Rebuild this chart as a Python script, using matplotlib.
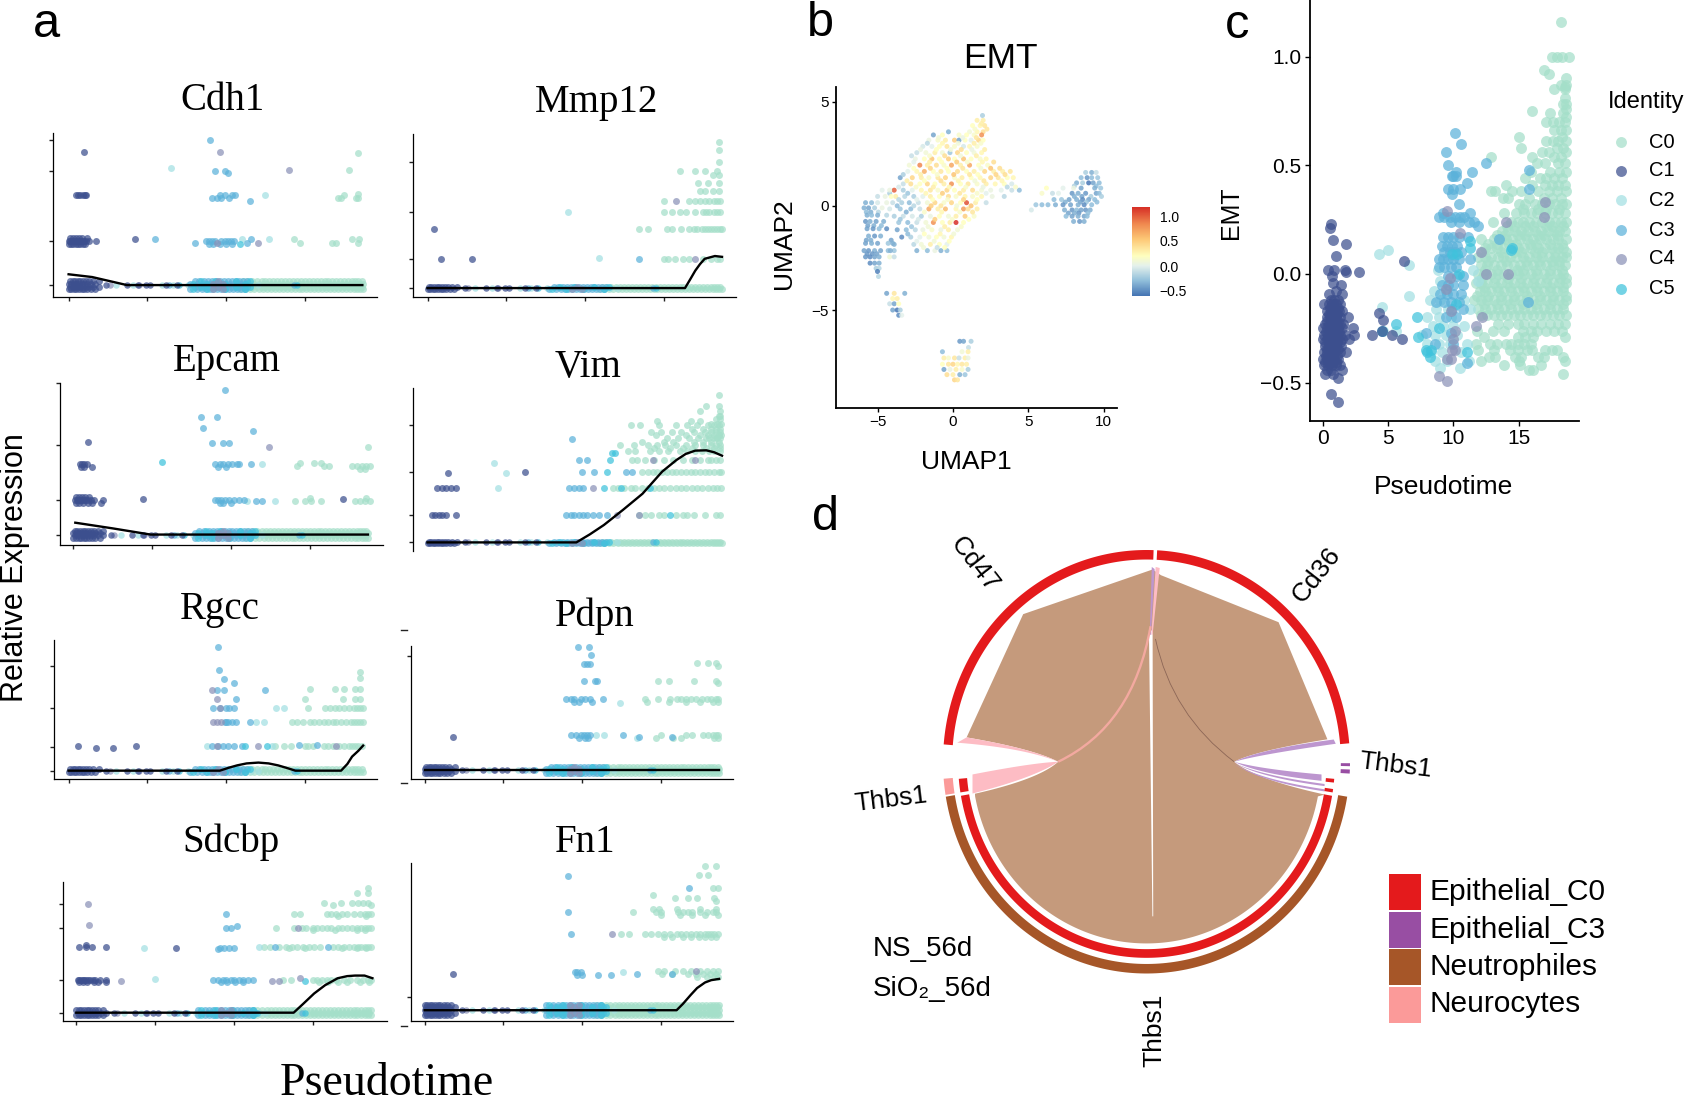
import numpy as np
import matplotlib
matplotlib.use("Agg")
import matplotlib.pyplot as plt
from matplotlib.colors import LinearSegmentedColormap
from matplotlib.patches import PathPatch, Polygon, Rectangle
from matplotlib.path import Path

W, H = 1686, 1101
plt.rcParams['font.family'] = ['Liberation Sans', 'DejaVu Sans']
fig = plt.figure(figsize=(W / 100, H / 100), dpi=100)

COL = {'C0': '#a4dfc9', 'C1': '#3c4f8e', 'C2': '#a3e0e3', 'C3': '#5cb2da', 'C4': '#8b92b8', 'C5': '#3fc3dc'}
ORDER = ['C0', 'C2', 'C3', 'C5', 'C4', 'C1']

# ---------- panel a: cells shared along the zero-expression baseline (pseudotime)
# dense runs come as two lists that alternate across the thickness of the band
DENSE_C1 = ([0.0, 0.18, 0.33, 0.5, 0.66, 0.83, 1.0, 1.2, 1.4, 1.7], [0.1, 0.25, 0.4, 0.58, 0.75, 0.92, 1.1, 1.3, 1.55, 1.9])
DENSE_C3 = ([7.7, 8.15, 8.45, 8.7, 8.95, 9.2, 9.45, 9.7, 9.95, 10.2, 10.45, 10.7, 10.95, 11.2],
            [8.0, 8.3, 8.6, 8.85, 9.1, 9.35, 9.6, 9.85, 10.1, 10.35, 10.6, 10.85, 11.1, 11.35])
DENSE_C5 = ([7.9, 8.8, 9.9, 11.2], [8.4, 9.3, 10.6, 11.5])
DENSE_C4 = ([9.2, 9.8], [9.5])
DENSE_C0 = ([10.9, 11.2, 11.5, 11.8, 12.1, 12.35, 12.6, 12.85, 13.1, 13.35, 13.6, 13.85, 14.1, 14.35, 14.6, 14.85, 15.1, 15.35, 15.6, 15.85,
             16.1, 16.35, 16.6, 16.85, 17.1, 17.35, 17.6, 17.85, 18.1, 18.3, 18.5, 18.7],
            [11.05, 11.35, 11.65, 11.95, 12.25, 12.5, 12.75, 13.0, 13.25, 13.5, 13.75, 14.0, 14.25, 14.5, 14.75, 15.0, 15.25, 15.5, 15.75, 16.0,
             16.25, 16.5, 16.75, 17.0, 17.25, 17.5, 17.75, 18.0, 18.2, 18.4, 18.6])
DENSE = {'C0': DENSE_C0, 'C1': DENSE_C1, 'C3': DENSE_C3, 'C4': DENSE_C4, 'C5': DENSE_C5}
# single cells between the runs
SPARSE = {'C1': [2.4, 3.7, 4.4, 4.9, 5.2, 6.2, 6.9], 'C4': [2.6, 4.5], 'C2': [3.0, 4.1, 5.9, 6.6, 7.6, 11.6, 12.0],
          'C3': [6.4, 14.3], 'C5': [7.0, 14.5]}
X_TICKS = [0, 5, 10, 15]

# expression rows: (height on the axis in %, pseudotime of each cell)
CDH1 = {
 'C1': [(88.6, [1.0]), (62, [0.45, 0.6, 0.75, 0.9, 1.05, 1.12]),
        (34, [0.0, 0.1, 0.2, 0.3, 0.4, 0.5, 0.6, 0.7, 0.8, 0.9, 1.0, 1.1, 1.3, 1.75]),
        (32, [0.05, 0.15, 0.3, 0.45, 0.6, 0.75, 0.9, 1.05]), (36, [0.1, 0.25, 0.5, 0.65, 0.85, 1.2]), (35, [4.2])],
 'C3': [(96, [9.0]), (76.5, [9.3, 9.9]), (75.5, [10.1]), (62, [9.6, 9.9, 10.4, 10.55]), (60, [9.1, 9.4, 9.7, 10.2]), (58.5, [11.5]),
        (34, [8.7, 8.9, 9.1, 9.3, 9.7, 9.9, 10.1, 10.3, 10.5]), (32, [8.9, 9.2, 9.6, 10.0, 10.4]), (33, [8.0, 11.3]), (35, [5.5, 11.6])],
 'C4': [(88.6, [9.6]), (77.5, [14.0]), (33, [9.4, 12.0])],
 'C2': [(78.5, [6.5]), (62, [12.5]), (35, [11.0, 12.7])],
 'C5': [(32, [10.9])],
 'C0': [(88, [18.4]), (77.5, [17.8]), (62, [17.5]), (60, [17.1, 17.3, 18.25, 18.4]), (63, [18.4]),
        (35, [14.3, 18.0, 18.45]), (33, [14.7, 16.7, 17.0, 18.4])],
}
MMP12 = {
 'C1': [(41.8, [0.43]), (23, [0.86, 2.8])],
 'C4': [(23, [17.0]), (59, [15.8])],
 'C3': [(23, [13.4])],
 'C2': [(52, [8.9]), (23.5, [10.9])],
 'C0': [(95, [18.5]), (90, [18.5]), (83, [18.5]), (77.5, [16.0, 17.0, 17.6, 18.4]), (74.5, [18.1, 18.5]), (70, [17.2, 17.8, 18.5]),
        (65, [17.3, 17.6, 18.1, 18.5]), (59, [15.0, 16.6, 17.0, 17.3, 17.6, 17.9, 18.2, 18.4, 18.6]),
        (52, [15.0, 15.5, 16.0, 16.4, 17.0, 17.5, 17.9, 18.2, 18.6, 18.4, 17.7]),
        (41.4, [13.4, 14.0, 15.2, 15.5, 16.1, 16.6, 16.9, 17.1, 17.4, 17.6, 17.8, 18.0, 18.2, 18.4, 18.6, 18.7]),
        (23, [15.0, 15.3, 15.7, 16.2, 16.6, 17.5, 18.0, 18.4, 18.6])],
}
EPCAM = {
 'C1': [(63.7, [0.9]), (49.8, [0.4, 0.55, 0.7, 0.85]), (48, [0.5, 0.65, 1.15]),
        (27.9, [0.1, 0.2, 0.3, 0.4, 0.5, 0.6, 0.7, 0.8, 0.95, 1.1, 1.3, 1.9]), (29.5, [0.15, 0.35, 0.55, 0.75, 1.0]),
        (26, [0.15, 0.35, 0.6, 0.9, 1.2, 1.75]), (28.5, [4.4, 17.1])],
 'C3': [(95.5, [9.63]), (78.7, [8.1, 9.1]), (72, [8.25]), (70.5, [11.4]), (62.7, [8.8, 9.5, 9.9]),
        (49.8, [9.0, 9.3, 9.5, 9.8, 10.1, 10.4, 10.5, 11.3]), (48, [9.2, 9.7]),
        (27.9, [9.0, 9.2, 9.4, 9.6, 9.9, 10.2, 10.5, 10.8]), (26, [9.3, 9.5, 10.0]), (27, [11.6, 12.0])],
 'C5': [(51.4, [5.6])],
 'C4': [(60.7, [12.4])],
 'C2': [(49.8, [12.0]), (27, [11.0, 12.8])],
 'C0': [(60.7, [18.7]), (50.5, [15.3, 15.7, 14.4]), (49, [14.2, 16.2, 15.9, 17.7, 18.0, 18.3, 18.6, 18.8]), (47, [18.2, 18.5]),
        (27, [14.1, 14.7, 15.1, 15.7, 17.9, 18.2, 18.5, 18.8]), (29, [15.0, 18.6])],
}
VIM = {
 'C1': [(38.5, [0.6, 0.9, 1.2, 1.5, 1.8]), (22, [0.3, 0.5, 0.7, 0.9, 1.2, 1.8]), (48, [1.3]), (48.6, [6.2])],
 'C2': [(54, [4.2]), (48, [5.0]), (38.5, [4.5])],
 'C3': [(68.6, [9.15]), (55.7, [9.6, 10.1]), (48.6, [9.8, 10.6, 12.6, 13.0]),
        (38.5, [9.0, 9.3, 9.6, 9.9]), (22, [8.8, 9.1, 9.3, 9.6, 9.9, 10.1, 10.5, 10.9, 11.4])],
 'C5': [(55.7, [11.6]), (60, [11.7, 11.9]), (48.6, [11.4]), (38.5, [11.2, 12.3, 14.1]), (22, [15.4])],
 'C4': [(38.5, [10.5]), (55.7, [14.3]), (22, [12.0, 13.4]), (56, [17.0])],
 'C0': [(95.7, [18.5]), (89, [17.7, 18.5]), (86, [17.3, 18.6]), (83, [18.6, 18.5]), (81, [18.3, 18.6]), (80, [14.6, 16.7, 17.3]),
        (78, [18.0, 18.4, 18.65]), (77, [12.9, 13.5, 14.7, 15.8, 16.5, 17.1, 17.8, 18.2, 18.5]), (75, [16.8, 17.5, 18.0, 18.3, 18.6]),
        (73, [14.2, 14.8, 15.5, 16.1, 16.9, 17.6, 18.0, 18.3, 18.6]), (71, [14.5, 16.4, 17.3, 17.8, 18.2, 18.5, 18.65]),
        (69, [15.2, 15.9, 16.6, 17.2, 17.7, 18.1, 18.4, 18.6, 17.9, 18.3]), (67, [13.6, 15.0, 15.6, 16.9, 17.5, 18.0, 18.5]),
        (65, [12.2, 13.1, 14.0, 14.6, 15.1, 15.8, 16.4, 17.0, 17.5, 18.0, 18.3, 18.6]), (63, [14.4, 15.4, 16.2, 16.8, 17.7, 18.2, 18.6]),
        (61, [12.7, 13.2, 14.1, 14.7, 15.3, 16.0, 16.5, 17.0, 17.4, 17.9, 18.2, 18.6]),
        (55.7, [13.0, 13.3, 13.8, 14.4, 15.0, 15.6, 16.2, 16.8, 17.3, 17.8, 18.3, 18.6, 18.0]),
        (48.6, [13.6, 14.0, 14.3, 14.6, 14.9, 15.2, 15.5, 15.8, 16.1, 16.4, 16.7, 17.0, 17.3, 17.6, 17.9, 18.2, 18.5, 18.65]),
        (38.5, [11.8, 12.1, 12.5, 12.9, 13.2, 13.6, 14.0, 14.4, 14.7, 15.0, 15.4, 15.8, 16.1, 16.4, 16.8, 17.1, 17.4, 17.8, 18.1, 18.4, 18.65]),
        (22, [13.4, 13.8, 14.2, 14.7, 15.0, 15.8, 16.2, 16.5, 16.9, 17.6, 18.3, 18.6])],
}
RGCC = {
 'C1': [(24, [0.6, 4.3]), (22.5, [1.75, 2.8])],
 'C3': [(95, [9.5]), (78.5, [9.55]), (72, [9.85]), (69.4, [10.5]), (64, [9.4, 9.85, 12.5]), (58, [10.6]),
        (51, [9.2, 9.6, 10.0, 10.2, 10.5]), (41, [9.9, 10.0, 10.15, 10.35, 10.6, 11.5]),
        (24, [9.1, 9.5, 9.8, 10.1, 10.5, 11.0]), (24.5, [14.6, 15.8])],
 'C4': [(64, [9.1]), (58, [9.45]), (41, [9.2, 9.4, 9.7]), (24, [9.4, 12.0, 17.0]), (51, [9.6])],
 'C2': [(24, [8.8, 12.9]), (41, [11.9, 12.4]), (51, [13.2, 13.7])],
 'C5': [(24, [11.2, 12.6])],
 'C0': [(77, [18.5]), (72.5, [18.5]), (65, [15.3, 16.9, 17.5, 18.2, 18.5]), (58, [15.0, 17.4, 18.2, 18.5]),
        (51, [15.2, 16.3, 16.6, 16.9, 17.2, 17.5, 17.8, 18.1, 18.3, 18.5, 18.7]),
        (41, [14.2, 14.5, 14.9, 15.3, 15.6, 15.9, 16.2, 16.5, 16.8, 17.0, 17.3, 17.6, 17.9, 18.1, 18.3, 18.5, 18.7]),
        (24, [13.1, 13.7, 14.1, 15.0, 15.2, 15.5, 16.2, 16.5, 16.8, 17.2, 17.5, 17.8, 18.0, 18.2, 18.4, 18.6])],
}
PDPN = {
 'C1': [(31.5, [1.8])],
 'C3': [(99.5, [9.75, 10.45]), (93, [10.55]), (86.5, [10.1, 10.3, 10.5]), (74, [10.1, 10.8, 10.95]),
        (60, [9.0, 9.3, 9.5, 9.9, 10.2, 10.5, 11.3]), (58, [9.5, 9.8, 10.6]),
        (33, [9.3, 9.6, 9.9, 10.1, 10.3, 10.5, 12.6]), (31, [9.8, 10.2, 10.4]), (32, [13.6, 15.7])],
 'C2': [(33, [10.9, 11.4]), (57, [12.4]), (31, [13.5])],
 'C0': [(87, [17.3, 18.0, 18.5]), (85, [18.6]), (74, [14.8, 15.5, 17.1, 18.5]), (72, [18.6]),
        (60, [14.0, 14.8, 15.6, 16.0, 16.3, 16.6, 16.9, 17.2, 17.6, 17.9, 18.2, 18.5, 18.6]), (58, [14.1, 15.5, 16.6, 17.5, 18.3, 18.6]),
        (33, [15.0, 16.6, 17.0, 17.7, 18.0, 18.3, 18.5, 18.6]), (31, [14.7, 15.8, 16.3, 18.4, 18.6])],
}
SDCBP = {
 'C1': [(53.7, [0.15, 0.6, 1.0, 1.9]), (55, [0.6]), (53, [6.3]),
        (30, [0.1, 0.2, 0.3, 0.4, 0.5, 0.6, 0.75, 0.9, 1.05, 1.2, 1.5, 1.9]), (28.5, [0.2, 0.45, 0.7, 1.1, 1.4, 1.9])],
 'C4': [(84.7, [0.77]), (69, [0.83]), (67.4, [14.1]), (29, [2.85, 12.4, 12.9]), (31, [14.2])],
 'C2': [(53, [4.3]), (30.5, [5.0]), (53.7, [11.6])],
 'C3': [(77, [9.5]), (67, [9.5, 9.8]), (68.5, [10.2]), (53, [9.1, 9.4, 9.7, 10.0]), (53.7, [12.6, 16.0]), (52, [9.0]),
        (30, [8.7, 9.0, 9.3, 9.5, 9.8, 10.0, 10.3, 10.6, 10.9, 11.2]), (28.5, [9.2, 9.6, 10.1, 10.6])],
 'C5': [(29, [14.5])],
 'C0': [(95.7, [18.5]), (92, [17.85, 18.5]), (85, [15.7, 16.8, 17.5, 17.9, 18.2, 18.5]), (84, [16.3, 18.7]),
        (77, [13.8, 14.2, 15.9, 16.2, 16.5, 16.9, 17.2, 17.6, 18.0, 18.3, 18.5, 18.7]), (76, [16.6, 18.4]),
        (67.4, [12.7, 13.8, 14.3, 14.6, 15.0, 15.3, 15.6, 15.9, 16.2, 16.6, 16.9, 17.2, 17.5, 17.8, 18.1, 18.3, 18.5, 18.7]), (65.5, [15.0, 16.4, 17.8, 18.3]),
        (53.7, [11.9, 12.3, 12.9, 13.3, 13.7, 14.0, 14.4, 14.8, 15.1, 15.5, 16.3, 16.6, 17.0, 17.3, 17.6, 17.9, 18.1, 18.3, 18.5, 18.7]),
        (52.5, [13.5, 14.5, 16.9, 17.8, 18.4]),
        (30, [13.1, 13.6, 15.0, 15.3, 15.6, 15.9, 16.2, 16.5, 17.0, 17.4, 17.8, 18.2, 18.5, 18.7]), (28.5, [15.4, 16.0, 16.6, 17.2, 18.0, 18.6])],
}
FN1 = {
 'C1': [(30, [1.8])],
 'C3': [(92, [9.1]), (84, [16.8]), (69, [9.1]), (55, [9.3]), (31, [9.55, 9.7, 9.9]), (29, [9.65, 10.0, 11.0, 11.85]), (30, [13.5, 15.7])],
 'C4': [(55, [11.9]), (32, [17.2])],
 'C2': [(31, [12.6])],
 'C0': [(98, [17.8, 18.5]), (92.6, [17.4, 18.0]), (84, [18.3, 18.6]), (80, [14.5]), (78, [15.9, 16.7, 17.3, 18.4]), (76, [18.5]),
        (71, [14.5, 14.9, 16.0, 17.5, 18.5]), (69, [13.2, 14.7, 15.0, 16.1, 16.4, 16.7, 17.0, 17.5, 17.9, 18.3, 18.5]), (67, [15.0, 16.2, 17.0, 17.8, 18.6]),
        (55, [12.5, 13.0, 14.0, 14.4, 14.8, 15.2, 15.6, 16.0, 16.3, 16.6, 16.9, 17.2, 17.5, 17.8, 18.0, 18.2, 18.4, 18.6]),
        (53, [15.2, 15.7, 16.4, 16.9, 17.4, 17.8, 18.2, 18.5]),
        (32, [14.8, 15.2, 15.9, 16.4, 16.9, 17.5, 17.9, 18.3, 18.6]), (30, [15.1, 15.7, 16.7, 17.2, 17.7, 18.1, 18.5]), (28, [17.3, 17.9, 18.4, 18.6])],
}

CDH1_LINE = ([0, 1.5, 3.7, 18.65], [13.7, 12, 7.1, 7.1])
MMP12_LINE = ([0, 16.35, 16.7, 17.0, 17.3, 17.6, 18.25, 18.7], [5.3, 5.3, 11, 16, 20, 23.3, 25, 24.5])
EPCAM_LINE = ([0.12, 2.5, 4.9, 18.7], [13.9, 10.4, 6.6, 6.6])
VIM_LINE = ([0, 9.45, 10.3, 11.2, 12.4, 13.65, 14.9, 15.8, 16.4, 17.0, 17.7, 18.2, 18.7],
            [5.1, 5.1, 10, 15.8, 25, 35, 48.6, 55.7, 59.5, 61.5, 61.7, 60.5, 58.4])
RGCC_LINE = ([0, 9.6, 10.2, 10.7, 11.3, 12.05, 12.7, 13.3, 13.9, 14.4, 17.3, 17.7, 18, 18.4, 18.7],
             [6.2, 6.2, 8.4, 10, 11.4, 12, 11.4, 10, 8, 6.2, 6.2, 11, 16.3, 20.5, 24.2])
PDPN_LINE = ([0, 18.7], [7, 7])
SDCBP_LINE = ([0, 13.8, 14.4, 15.1, 15.8, 16.6, 17.2, 17.7, 18.3, 18.8], [6.2, 6.2, 12.5, 20, 26, 31, 32.5, 32.9, 32.9, 31])
FN1_LINE = ([0, 16.0, 16.4, 16.9, 17.3, 17.8, 18.2, 18.7], [7, 7, 11, 16.7, 21, 24.5, 26, 26.8])

# name, data, line, y ticks (%), band offsets of the baseline, baseline level
GENES = [
 ('Cdh1', CDH1, CDH1_LINE, [96, 76.5, 34, 7.1], [-2.6, -0.9, 0.9, 2.6], 7.1),
 ('Mmp12', MMP12, MMP12_LINE, [83, 52, 23, 5.3], [-0.4, 0.4], 5.3),
 ('Epcam', EPCAM, EPCAM_LINE, [99.6, 61.7, 27.9, 6.6], [-2.2, -0.5, 1.2, 2.4], 6.6),
 ('Vim', VIM, VIM_LINE, [77, 48.6, 22, 5.1], [-0.4, 0.4], 5.1),
 ('Rgcc', RGCC, RGCC_LINE, [81, 51, 23.4, 6.2], [-1.2, 0.9], 6.2),
 ('Pdpn', PDPN, PDPN_LINE, [92.5], [-2.6, -0.8, 1.0, 2.4], 7),
 ('Sdcbp', SDCBP, SDCBP_LINE, [84.7, 67.4, 30, 6.2], [-1.8, 0.0, 1.8], 6.2),
 ('Fn1', FN1, FN1_LINE, [15.6], [-3.2, -1.6, 0.2, 1.8, 3.2], 7),
]
# left, top, right, bottom, x of pseudotime 0 (pixels), title centre
A_BOX = [(53.1, 133, 376.8, 296.7, 68.6, 223, 101), (413, 134, 736.2, 296.7, 427.5, 597, 103),
         (59.9, 382.7, 382.6, 545.3, 73.4, 227, 361), (413, 388, 736.2, 550.7, 427.5, 588, 368),
         (54.1, 640, 376.8, 779.3, 68.6, 220, 609), (410.6, 646, 733.3, 779.3, 424.6, 595, 616),
         (62.8, 882.3, 386.5, 1021.3, 76.3, 231, 842), (410.6, 863, 733.3, 1021.3, 424.6, 585, 842)]
STRAY = {'Pdpn': [112, -3], 'Fn1': [-2.7]}


def axpx(l, t, r, b):
    return fig.add_axes([l / W, 1 - b / H, (r - l) / W, (b - t) / H])


def tpx(x, y, s, **kw):
    kw.setdefault('ha', 'center')
    kw.setdefault('va', 'center')
    return fig.text(x / W, 1 - y / H, s, **kw)


SERIF = ['Liberation Serif', 'DejaVu Serif']
for (name, data, line, yt, offs, lvl), (l, t, r, b, x0, tx, ty) in zip(GENES, A_BOX):
    ax = axpx(l, t, r, b)
    ax.set_xlim((l - x0) / 15.75, (r - x0) / 15.75)
    ax.set_ylim(0, 100)
    for k in ORDER:
        for i, off in enumerate(offs):
            if k in DENSE:
                xs = DENSE[k][i % len(DENSE[k])]
                ax.scatter(xs, [lvl + off] * len(xs), s=25, color=COL[k], alpha=0.72, lw=0, clip_on=False, zorder=2)
        if k in SPARSE:
            ax.scatter(SPARSE[k], [lvl] * len(SPARSE[k]), s=22, color=COL[k], alpha=0.72, lw=0, clip_on=False, zorder=2)
        for yv, xs in data.get(k, []):
            ax.scatter(xs, [yv] * len(xs), s=25, color=COL[k], alpha=0.72, lw=0, clip_on=False, zorder=2)
    ax.plot(line[0], line[1], color='black', lw=1.7, zorder=4, clip_on=False)
    for s in ('top', 'right'):
        ax.spines[s].set_visible(False)
    for s in ('left', 'bottom'):
        ax.spines[s].set_linewidth(0.9)
    ax.set_yticks(yt)
    ax.set_yticklabels([])
    ax.tick_params(axis='y', length=3, width=1.0, color='#222222')
    ax.set_xticks(X_TICKS)
    ax.set_xticklabels([])
    ax.tick_params(axis='x', length=3, width=1.0, color='#222222')
    if name == 'Vim':
        ax.spines['bottom'].set_visible(False)
        ax.set_xticks([])
    for yv in STRAY.get(name, []):
        ax.plot([-0.012, -0.03], [yv / 100, yv / 100], transform=ax.transAxes, color='#222222', lw=1.0, clip_on=False)
    tpx(tx, ty, name, family=SERIF, fontsize=28)

tpx(387, 1084, 'Pseudotime', family=SERIF, fontsize=33)
tpx(15, 568, 'Relative Expression', rotation=90, fontsize=22)

# ---------- panel b: UMAP, rows of (umap2, [umap1], [EMT score])
MAIN_ROWS = [
 (4.35, [1.9], [-0.2]),
 (4.1, [1.6, 2.0], [0.3, 0.3]),
 (3.85, [1.3, 1.8, 2.1], [0.2, 0.25, 0.35]),
 (3.55, [-0.3, 1.1, 1.6, 2.0], [-0.35, 0.1, 0.25, 0.4]),
 (3.4, [-1.3, -0.7, 0.4, 0.9, 1.4, 1.9], [-0.4, 0.2, 0.15, 0.2, 0.15, 0.8]),
 (3.15, [-1.6, -1.0, -0.5, 0.1, 0.4, 0.8, 1.2, 1.7, 2.0], [0.05, 0.15, 0.3, 0.5, -0.4, 0.2, 0.0, 0.45, 0.2]),
 (2.85, [-2.0, -1.4, -0.9, -0.4, 0.1, 0.7, 1.1, 1.6], [-0.05, 0.0, 0.2, 0.35, 0.15, -0.05, 0.25, 0.15]),
 (2.55, [-2.4, -1.8, -1.2, -0.7, -0.2, 0.3, 0.9, 1.4, 1.9], [-0.1, 0.1, 0.3, 0.1, -0.25, 0.45, 0.2, 0.1, 0.25]),
 (2.25, [-2.5, -1.9, -1.4, -0.9, -0.3, 0.1, 0.7, 1.2, 1.8, 2.2], [0.05, 0.2, 0.55, 0.2, 0.5, 0.2, 0.55, 0.2, 0.15, 0.25]),
 (1.95, [-2.9, -2.2, -1.7, -1.1, -0.6, -0.1, 0.5, 1.1, 1.7, 2.3], [0.1, 0.85, 0.3, 0.4, 0.15, 0.7, 0.3, 0.7, 0.2, 0.15]),
 (1.65, [-3.0, -2.4, -1.9, -1.3, -0.8, -0.3, 0.3, 0.9, 1.4, 2.1, 2.7, 3.3, 3.8], [0.0, 0.25, 0.65, 0.2, 0.35, 0.2, 0.4, 0.2, 0.3, 0.45, 0.3, 0.3, 0.35]),
 (1.35, [-3.5, -2.7, -2.1, -1.6, -1.0, -0.5, 0.1, 0.6, 1.2, 1.8, 2.5, 3.0, 3.6, 4.0], [-0.4, 0.45, 0.3, 0.15, 0.35, 0.45, 0.15, 0.3, 0.2, 0.25, 0.45, 0.35, 0.2, 0.25]),
 (1.05, [-3.3, -2.8, -2.2, -1.7, -1.2, -0.6, -0.1, 0.5, 1.0, 1.6, 2.2, 2.8, 3.4, 3.9], [-0.1, 0.4, 0.2, 0.45, 0.2, 0.3, 0.8, 0.2, 0.35, 0.15, 0.3, 0.25, 0.2, -0.05]),
 (0.75, [-3.9, -3.3, -2.7, -2.1, -1.5, -1.0, -0.4, 0.1, 0.7, 1.3, 1.9, 2.5, 3.2, 3.9, 4.4], [1.0, -0.2, 0.0, 0.25, 0.35, 0.15, 0.45, 0.2, 0.3, 0.4, 0.1, 0.05, 0.0, -0.1, -0.3]),
 (0.45, [-3.8, -3.2, -2.6, -2.0, -1.5, -0.9, -0.3, 0.2, 0.8, 1.3, 1.9, 2.6, 3.4], [0.3, -0.15, -0.2, 0.0, 0.3, 0.2, 0.4, 0.15, 0.25, 0.15, 0.25, 0.05, -0.15]),
 (0.15, [-4.0, -3.4, -2.9, -2.3, -1.7, -1.2, -0.6, -0.1, 0.5, 0.9, 1.5, 2.2], [-0.1, -0.2, -0.3, -0.1, 0.1, 0.45, 0.15, 0.45, 0.2, 1.05, 0.3, -0.1]),
 (-0.15, [-4.2, -3.5, -2.8, -2.2, -1.6, -1.0, -0.5, 0.2, 0.7, 1.0, 1.6], [-0.05, -0.25, -0.3, -0.1, 0.7, 0.3, 0.6, 0.25, 0.75, 0.4, 0.3]),
 (-0.5, [-3.9, -3.3, -2.7, -2.1, -1.5, -0.9, -0.3, 0.2, 0.8, 1.4], [-0.2, -0.1, -0.05, -0.2, 0.05, 0.2, 0.1, 0.3, 0.5, 0.15]),
 (-0.8, [-3.6, -3.0, -2.4, -1.8, -1.3, -0.7, -0.2, 0.2, 0.7], [-0.25, -0.3, -0.1, 0.1, 0.8, 0.2, 0.3, 1.2, 0.2]),
 (-1.15, [-3.7, -3.1, -2.5, -2.0, -1.4, -0.8, -0.3, 0.3], [-0.4, -0.3, -0.15, 0.05, 0.15, 0.05, 0.3, 0.1]),
 (-1.5, [-3.4, -2.8, -2.2, -1.6, -1.1, -0.6, -0.1], [-0.5, -0.2, 0.0, 0.1, 0.2, 0.1, 0.25]),
 (-1.85, [-3.9, -2.6, -2.1, -1.5, -0.9, -0.4], [-0.35, -0.15, 0.1, 0.3, 0.2, 0.0]),
 (-2.15, [-4.3, -3.9, -2.4, -1.7, -1.2, -0.8, -0.4], [-0.3, -0.25, -0.35, -0.3, 0.05, -0.35, -0.3]),
]
MAIN_EXTRA = [
 (3.98, [1.85], [0.3]), (3.68, [1.45, 2.25], [0.15, 0.35]),
 (3.27, [-0.95, 0.65, 1.55], [0.1, 0.05, 0.35]), (3.0, [-1.7, -0.7, 0.35, 1.4, 1.85], [-0.15, 0.25, 0.1, 0.3, 0.15]),
 (2.7, [-2.15, -1.1, -0.15, 0.55, 1.25, 2.1], [0.05, 0.2, 0.1, 0.4, 0.05, 0.3]),
 (2.4, [-2.75, -1.55, -0.55, 0.5, 1.55], [-0.1, 0.15, 0.4, 0.1, 0.3]),
 (2.1, [-2.6, -1.55, -0.75, 0.25, 0.95, 1.95, 2.7], [0.0, 0.3, 0.2, 0.5, 0.15, 0.25, 0.4]),
 (1.8, [-2.6, -1.5, -0.4, 0.65, 1.85, 2.5, 3.1], [0.2, 0.45, 0.2, 0.35, 0.1, 0.55, 0.4]),
 (1.5, [-3.3, -2.15, -1.05, 0.05, 1.1, 1.65, 2.85, 3.45], [-0.2, 0.3, 0.15, 0.55, 0.35, 0.2, 0.45, 0.4]),
 (1.2, [-3.05, -1.9, -0.8, 0.35, 1.45, 2.05, 3.25], [0.3, 0.2, 0.4, 0.25, 0.1, 0.35, 0.25]),
 (0.9, [-3.6, -2.45, -1.3, -0.25, 0.85, 2.0, 3.6, 4.15], [-0.05, 0.15, 0.3, 0.25, 0.15, 0.05, -0.15, 0.15]),
 (0.6, [-4.2, -3.0, -1.8, -0.7, 0.45, 1.6, 2.2], [-0.2, -0.25, 0.25, 0.5, 0.35, 0.15, 0.0]),
 (0.3, [-3.6, -2.4, -1.35, -0.35, 0.7, 1.6], [-0.15, 0.0, 0.2, 0.15, 0.45, 0.2]),
 (0.0, [-3.7, -2.6, -1.45, -0.8, 0.25, 1.2], [-0.3, -0.15, 0.5, 0.35, 0.1, 0.55]),
 (-0.3, [-3.1, -1.9, -0.75, 0.45, 1.3], [-0.35, 0.15, 0.25, 0.15, 0.35]),
 (-0.65, [-3.5, -2.3, -1.2, -0.05, 1.05], [-0.25, -0.05, 0.5, 0.15, 0.2]),
 (-1.0, [-2.75, -1.65, -0.55, 0.55], [-0.25, 0.1, 0.3, 0.15]),
 (-1.35, [-3.0, -1.9, -0.85, 0.05], [-0.3, 0.2, 0.25, 0.1]),
 (-1.7, [-2.4, -1.25, -0.25], [0.0, 0.1, 0.2]),
 (-2.0, [-1.95, -1.05, -0.55], [0.1, -0.1, 0.2]),
]
LEFT_ROWS = [
 (0.75, [-4.7, -4.2], [0.0, 0.05]),
 (0.45, [-5.0, -4.5, -4.1], [-0.1, 0.05, 0.2]),
 (0.15, [-5.8, -5.4, -5.0, -4.4], [-0.35, -0.3, -0.05, 0.05]),
 (-0.1, [-5.9, -5.6, -5.2, -4.7], [-0.35, -0.4, -0.2, 0.05]),
 (-0.3, [-5.75, -5.45, -4.95], [-0.3, -0.35, -0.15]),
 (-0.45, [-5.7, -5.4, -5.0, -4.4], [-0.35, -0.3, -0.35, -0.15]),
 (-0.75, [-5.8, -5.5, -5.1, -4.6], [-0.45, -0.35, -0.4, -0.35]),
 (-0.95, [-5.65, -5.25, -4.75], [-0.4, -0.35, -0.3]),
 (-1.1, [-5.7, -5.3, -4.9, -4.4], [-0.4, -0.45, -0.3, -0.5]),
 (-1.45, [-5.6, -5.2, -4.8], [-0.35, -0.45, -0.35]),
 (-1.65, [-5.75, -5.45, -4.1], [-0.4, -0.35, -0.4]),
 (-1.8, [-5.8, -5.4, -5.0, -4.3, -4.0], [-0.4, -0.35, -0.4, -0.25, -0.35]),
 (-2.15, [-5.9, -5.6, -5.2, -4.8, -4.15], [-0.4, -0.45, -0.35, -0.4, -0.35]),
 (-2.3, [-5.7, -5.35, -5.05], [-0.45, -0.45, -0.4]),
 (-2.45, [-5.8, -5.5, -5.2, -4.9, -4.2, -3.9], [-0.45, -0.5, -0.4, -0.35, 0.1, -0.1]),
 (-2.75, [-5.5, -5.2, -4.9], [-0.5, -0.4, -0.35]),
 (-3.0, [-5.1, -4.9], [-0.2, -0.15]),
 (-3.15, [-5.05], [-0.55]),
 (-3.35, [-5.0], [-0.15]),
]
RIGHT_ROWS = [
 (1.6, [8.8, 9.2, 9.5], [-0.2, -0.35, -0.1]),
 (1.35, [8.5, 8.9, 9.2, 9.6], [-0.3, -0.45, -0.3, -0.25]),
 (1.1, [8.2, 8.6, 9.0, 9.3, 9.7], [-0.35, -0.2, -0.7, -0.4, -0.3]),
 (0.95, [8.05, 9.5], [-0.2, -0.3]),
 (0.85, [6.2, 7.3, 8.0, 8.5, 9.4, 9.8], [0.2, 0.0, 0.05, -0.4, -0.35, -0.25]),
 (0.6, [5.9, 6.6, 7.0, 7.9, 8.3, 8.8, 9.5, 9.7], [0.15, -0.1, 0.0, -0.45, -0.35, -0.45, -0.4, -0.3]),
 (0.45, [8.05, 8.55, 9.15, 9.85], [-0.35, -0.4, -0.2, -0.2]),
 (0.3, [6.7, 7.2, 7.7, 8.2, 8.6, 9.0, 9.4], [-0.3, -0.25, -0.4, -0.35, -0.5, -0.4, -0.3]),
 (0.18, [7.45, 8.45, 8.85, 9.55], [-0.35, -0.4, -0.25, -0.3]),
 (0.05, [5.5, 5.9, 6.3, 6.8, 7.3, 7.8, 8.3, 8.7, 9.2], [-0.25, -0.3, -0.3, -0.35, -0.45, -0.4, -0.35, -0.5, -0.3]),
 (-0.2, [5.2, 7.4, 7.9, 8.2, 8.5, 8.8, 9.1], [-0.05, -0.35, -0.45, -0.3, -0.4, -0.45, -0.35]),
 (-0.35, [7.65, 8.05, 8.35, 8.95], [-0.4, -0.35, -0.45, -0.3]),
 (-0.5, [7.5, 7.9, 8.3, 8.7, 8.9], [-0.3, -0.4, -0.35, -0.4, -0.3]),
 (-0.75, [8.0, 8.4, 8.7], [-0.35, -0.45, -0.35]),
]
SMALL_ROWS = [
 (-4.2, [-4.4, -3.9, -3.2], [-0.4, 0.35, -0.35]),
 (-4.45, [-4.0, -3.7], [0.25, 0.3]),
 (-4.7, [-4.2, -3.9, -3.6], [-0.1, -0.4, 0.2]),
 (-5.0, [-4.0, -3.7, -3.5], [-0.4, -0.65, -0.2]),
 (-5.25, [-3.6, -3.4], [-0.5, 0.0]),
 (-6.5, [0.45, 0.7, 1.2], [-0.45, -0.4, -0.2]),
 (-6.75, [1.0], [-0.1]),
 (-7.0, [-0.7, 0.6, 1.0], [-0.3, 0.1, 0.3]),
 (-7.3, [-0.6, -0.3, 0.1, 0.4, 0.8, 1.0], [0.3, 0.15, 0.35, -0.1, 0.3, 0.05]),
 (-7.6, [-0.7, -0.3, 0.0, 0.3, 0.6, 0.9], [0.2, 0.35, 0.45, 0.25, 0.35, 0.3]),
 (-7.85, [-0.6, -0.2, 0.2, 0.6, 1.0], [-0.4, 0.05, 0.3, 0.15, -0.2]),
 (-8.1, [-0.4, 0.0, 0.45, 0.8], [0.4, 0.3, -0.35, -0.25]),
 (-8.35, [0.1, 0.3], [0.45, 0.35]),
]
UMAP_TICKS_X = [-5, 0, 5, 10]
UMAP_TICKS_Y = [-5, 0, 5]
EMT_CMAP = LinearSegmentedColormap.from_list('emt', [(0, '#4575b4'), (0.17, '#91bfdb'), (0.337, '#e4f1ec'), (0.45, '#ffffbf'),
                                                     (0.64, '#fdc876'), (0.81, '#f08a50'), (1, '#d73027')])
VMIN, VMAX = -0.6, 1.18

axb = axpx(836, 87, 1117, 408)
axb.set_xlim(-7.76, 10.88)
axb.set_ylim(-9.7, 5.7)
for rows in (MAIN_ROWS, MAIN_EXTRA, LEFT_ROWS, RIGHT_ROWS, SMALL_ROWS):
    for yv, xs, vs in rows:
        axb.scatter(xs, [yv] * len(xs), c=vs, cmap=EMT_CMAP, vmin=VMIN, vmax=VMAX, s=13, alpha=0.85, lw=0, zorder=2)
for s in ('top', 'right'):
    axb.spines[s].set_visible(False)
for s in ('left', 'bottom'):
    axb.spines[s].set_linewidth(1.3)
axb.set_xticks(UMAP_TICKS_X)
axb.set_xticklabels(['\u22125', '0', '5', '10'])
axb.set_yticks(UMAP_TICKS_Y)
axb.set_yticklabels(['\u22125', '0', '5'])
axb.tick_params(labelsize=11, length=3, width=1.0, pad=2)
tpx(1000.7, 59, 'EMT', fontsize=25.5)
tpx(966, 462, 'UMAP1', fontsize=19)
tpx(784, 244, 'UMAP2', fontsize=19, rotation=90)

axcb = axpx(1132, 207, 1150, 296)
axcb.imshow(np.linspace(VMAX, VMIN, 200)[:, None], aspect='auto', cmap=EMT_CMAP, vmin=VMIN, vmax=VMAX,
            extent=[0, 1, VMIN, VMAX], origin='upper')
axcb.set_xticks([])
axcb.yaxis.tick_right()
axcb.set_yticks([1.0, 0.5, 0.0, -0.5])
axcb.set_yticklabels(['1.0', '0.5', '0.0', '\u22120.5'])
axcb.tick_params(axis='y', length=0, labelsize=10, pad=7)
for s in axcb.spines.values():
    s.set_visible(False)

# ---------- panel c: EMT against pseudotime, rows of (EMT, [pseudotime])
C1_ROWS = [(0.23, [0.6]), (0.21, [0.55]), (0.155, [0.8]), (0.14, [1.8]), (0.085, [1.05]), (0.02, [0.4, 0.85, 1.7]), (0.01, [2.8, 1.8]),
           (-0.01, [0.75]), (-0.04, [0.8]), (-0.05, [1.4]), (-0.08, [1.0]), (-0.09, [0.5, 1.5]),
           (-0.12, [0.6, 0.9, 1.2]), (-0.14, [0.1, 0.45, 0.75, 1.05, 1.3]), (-0.155, [0.55, 0.85, 1.15]), (-0.17, [0.35, 0.65, 0.95, 1.25, 1.5]),
           (-0.185, [0.45, 0.75, 1.1]), (-0.2, [0.3, 0.55, 0.8, 1.05, 1.35, 1.9]), (-0.215, [0.35, 0.65, 0.95, 1.2]), (-0.23, [0.2, 0.5, 0.75, 1.0, 1.3, 1.55]),
           (-0.25, [0.05, 0.35, 0.65, 0.9, 1.15, 1.45, 2.35]), (-0.265, [0.25, 0.55, 0.85, 1.25]), (-0.28, [0.1, 0.4, 0.7, 1.0, 1.3, 1.7, 2.4]), (-0.3, [0.05, 0.3, 0.6, 0.9, 1.2, 1.5, 2.0]),
           (-0.315, [0.2, 0.5, 0.8, 1.1, 1.35]), (-0.33, [0.15, 0.45, 0.75, 1.05, 1.4]), (-0.345, [0.3, 0.6, 0.9, 1.2]), (-0.36, [0.1, 0.35, 0.65, 0.95, 1.3]), (-0.375, [0.25, 0.5, 0.8, 1.1]), (-0.39, [0.0, 0.3, 0.6, 0.9, 1.2]),
           (-0.405, [0.2, 0.5, 0.75, 1.05]), (-0.42, [0.1, 0.4, 0.7, 1.0, 1.3]), (-0.44, [0.3, 0.65, 1.5]), (-0.46, [0.15, 0.8]), (-0.48, [1.2]), (-0.55, [0.6]), (-0.59, [1.2]),
           (-0.18, [4.3]), (-0.21, [4.6]), (-0.26, [4.5]), (-0.28, [3.8, 5.3]), (-0.3, [6.1]), (0.06, [6.2]), (-0.36, [1.8])]
C2_ROWS = [(0.11, [5.0]), (0.09, [4.3]), (0.04, [6.6]), (-0.1, [6.6]), (-0.15, [4.5]), (-0.26, [4.6, 5.6]),
           (0.02, [8.8, 11.5]), (-0.03, [9.0, 11.9]), (-0.08, [8.5, 9.4]), (-0.12, [8.2, 9.0, 10.8]), (-0.16, [8.7, 9.6, 11.3]), (-0.2, [8.0, 8.9, 9.8]),
           (-0.24, [8.4, 9.2, 10.0, 10.8]), (-0.28, [7.6, 8.6, 9.4, 10.3]), (-0.32, [8.0, 8.9, 9.7, 11.0]), (-0.36, [8.3, 9.1, 10.6]), (-0.4, [8.6, 9.5, 11.2]), (-0.43, [10.5, 9.0])]
C3_ROWS = [(0.65, [10.1]), (0.6, [10.6]), (0.56, [9.4]), (0.51, [12.5]), (0.5, [9.6]), (0.47, [10.2, 11.4]), (0.45, [9.9, 10.0, 10.2]), (0.42, [11.0]),
           (0.39, [9.6, 10.0, 10.5, 15.8]), (0.37, [9.9]), (0.48, [15.8]), (0.32, [10.4]), (0.28, [9.2, 11.3]), (0.26, [8.9, 9.3, 9.7, 10.1, 10.5, 10.8]), (0.24, [9.8, 10.4, 11.2, 11.6]), (0.22, [11.9]),
           (0.17, [9.2, 9.6, 10.0, 10.4, 11.1]), (0.16, [13.5]), (0.13, [9.1, 9.5, 9.9, 10.3]), (0.1, [9.3, 9.7, 10.1, 10.6]),
           (0.07, [8.9, 9.2, 9.6, 10.0, 10.4, 11.3]), (0.03, [8.9, 9.3, 9.8, 10.2]), (-0.01, [9.6, 10.3, 10.7]), (-0.05, [9.1, 9.6, 10.0, 10.7]),
           (-0.09, [9.0, 9.5, 10.0, 10.6]), (-0.13, [8.7, 9.3, 9.8, 10.4, 15.7]), (-0.16, [9.9, 10.7]), (-0.2, [10.2, 9.4]), (-0.27, [7.9, 9.8]), (-0.32, [8.6, 10.0]), (-0.41, [11.0])]
C5_ROWS = [(0.12, [11.3, 14.5]), (0.11, [14.4]), (0.15, [11.3]), (0.09, [9.9, 10.3]), (-0.2, [7.2]), (-0.23, [5.6]), (-0.26, [4.5]), (-0.29, [7.3]),
           (-0.25, [8.9]), (-0.35, [7.9, 8.3]), (-0.36, [8.0, 11.0]), (-0.38, [8.2]), (-0.14, [10.2]), (0.0, [10.4])]
C4_ROWS = [(0.29, [9.5]), (0.19, [10.5]), (0.24, [14.0]), (0.1, [12.1]), (0.0, [12.5, 14.2]), (-0.02, [9.7]), (-0.07, [9.4]), (-0.17, [9.8]),
           (-0.2, [12.2]), (-0.24, [11.7]), (-0.26, [10.1]), (-0.3, [10.0]), (-0.35, [9.9, 10.1]), (-0.39, [9.5, 9.8]), (-0.47, [8.9]), (-0.49, [9.5]), (0.33, [17.0]), (0.26, [16.9])]
C0_ROWS = [(1.16, [18.2]), (1.0, [17.5, 17.9, 18.3, 18.8]), (0.94, [16.9]), (0.92, [17.3]), (0.9, [18.6]), (0.87, [18.2, 18.6]),
           (0.86, [18.5]), (0.85, [18.5, 17.7]), (0.81, [18.5]), (0.78, [18.6, 18.4]), (0.76, [18.6]), (0.75, [16.0]), (0.74, [17.4, 18.4]), (0.72, [18.6]), (0.7, [17.1, 17.6, 18.1, 18.5]),
           (0.66, [17.7, 18.2, 18.6]), (0.63, [15.0, 18.3]), (0.61, [17.1, 17.6, 18.0, 18.6]), (0.58, [15.2, 17.9, 18.4]), (0.56, [16.8, 17.3, 18.6]),
           (0.54, [12.9, 16.0, 17.7, 18.2]), (0.51, [16.4, 17.0, 18.5, 18.0]), (0.47, [15.9, 17.4, 18.1, 18.6]), (0.44, [15.5, 16.6, 17.1, 17.7, 18.3]),
           (0.41, [14.0, 16.0, 17.0, 17.5, 18.0, 18.5]), (0.38, [12.9, 13.2, 14.5, 15.2, 16.5, 17.3, 17.9, 18.6]), (0.35, [13.8, 14.2, 15.8, 16.9, 17.5, 18.2]),
           (0.32, [15.0, 15.5, 16.2, 16.8, 17.3, 17.8, 18.3, 18.6]), (0.3, [15.3, 16.5, 17.1, 18.1]), (0.28, [13.9, 14.8, 15.4, 15.9, 16.4, 17.0, 17.5, 18.0, 18.5]),
           (0.24, [13.0, 14.4, 14.9, 15.3, 15.8, 16.3, 16.8, 17.3, 17.8, 18.2, 18.6]), (0.22, [14.1, 14.65, 15.5, 16.05, 17.05, 17.55, 18.4]), (0.2, [13.7, 14.2, 14.7, 15.2, 15.7, 16.2, 16.7, 17.2, 17.7, 18.1, 18.5]),
           (0.18, [13.3, 13.95, 14.95, 15.45, 16.45, 16.95, 17.95]), (0.16, [12.1, 13.1, 13.6, 14.0, 14.5, 15.1, 15.6, 16.1, 16.6, 17.1, 17.6, 18.0, 18.6]),
           (0.14, [12.65, 13.35, 14.25, 14.75, 15.85, 16.35, 17.35, 18.3]), (0.12, [12.4, 12.9, 13.3, 13.9, 14.9, 15.4, 15.9, 16.5, 17.0, 17.5, 18.0, 18.4]),
           (0.1, [12.15, 13.65, 14.65, 15.15, 16.2, 16.75, 17.75, 18.6]), (0.08, [11.9, 12.4, 12.9, 13.4, 13.8, 14.3, 14.8, 15.3, 15.8, 16.3, 16.8, 17.3, 17.8, 18.3, 18.6]),
           (0.06, [12.65, 14.05, 15.55, 16.55, 17.55, 18.05]), (0.04, [12.1, 12.6, 13.1, 13.6, 14.1, 14.6, 15.1, 15.6, 16.1, 16.6, 17.1, 17.6, 18.1, 18.5]),
           (0.02, [12.4, 13.35, 14.85, 15.35, 16.35, 17.35, 18.3]), (0.0, [11.9, 12.3, 12.9, 13.4, 13.9, 14.4, 14.9, 15.4, 15.9, 16.4, 16.9, 17.4, 17.9, 18.4]),
           (-0.02, [12.15, 13.15, 14.15, 15.15, 16.15, 17.15, 18.15, 18.6]), (-0.04, [11.7, 12.1, 12.6, 13.1, 13.6, 14.1, 14.6, 15.1, 15.6, 16.1, 16.6, 17.1, 17.6, 18.1, 18.6]),
           (-0.06, [12.35, 13.35, 14.35, 15.35, 16.35, 17.35, 18.35]), (-0.08, [12.0, 12.4, 12.9, 13.4, 13.9, 14.4, 14.9, 15.4, 15.9, 16.4, 16.9, 17.4, 17.9, 18.4]),
           (-0.1, [11.8, 12.65, 13.65, 14.65, 15.65, 16.65, 17.65, 18.6]), (-0.12, [11.6, 12.1, 12.6, 13.1, 13.6, 14.1, 14.6, 15.1, 15.6, 16.1, 16.6, 17.1, 17.6, 18.1, 18.6]),
           (-0.14, [12.35, 13.35, 14.35, 15.35, 16.35, 17.35, 18.35]), (-0.16, [11.9, 12.4, 12.9, 13.4, 13.9, 14.4, 14.9, 15.4, 15.9, 16.4, 16.9, 17.4, 17.9, 18.4]),
           (-0.19, [12.1, 12.6, 13.1, 13.6, 14.1, 14.6, 15.1, 15.6, 16.1, 16.6, 17.1, 17.6, 18.1, 18.6]),
           (-0.23, [13.4, 14.2, 14.9, 15.4, 16.1, 16.7, 17.4, 18.0, 18.5]), (-0.26, [11.8, 13.0, 13.9, 15.3, 15.9, 16.4, 17.1, 17.7, 18.3]),
           (-0.29, [12.3, 14.9, 15.5, 16.1, 18.5]), (-0.32, [11.7, 12.8, 13.3, 14.0, 14.4, 14.9, 15.4, 15.9]), (-0.35, [11.9, 13.1, 14.3, 14.9, 15.6, 16.0, 17.0, 17.5, 17.9]),
           (-0.38, [12.7, 13.2, 14.7, 15.2, 16.5, 16.9, 18.4]), (-0.4, [12.1, 15.0, 18.5]), (-0.42, [13.9, 15.1, 16.7]), (-0.44, [15.8, 16.1]), (-0.46, [18.4])]
C_ROWS = {'C0': C0_ROWS, 'C1': C1_ROWS, 'C2': C2_ROWS, 'C3': C3_ROWS, 'C4': C4_ROWS, 'C5': C5_ROWS}

axc = axpx(1310, 0, 1579, 421)
axc.set_xlim(-0.97, 19.6)
axc.set_ylim(-0.676, 1.26)
for k in ['C0', 'C2', 'C3', 'C5', 'C1', 'C4']:
    for yv, xs in C_ROWS[k]:
        axc.scatter(xs, [yv] * len(xs), s=62, color=COL[k], alpha=0.72, lw=0, zorder=2)
for s in ('top', 'right'):
    axc.spines[s].set_visible(False)
for s in ('left', 'bottom'):
    axc.spines[s].set_linewidth(1.3)
axc.set_xticks([0, 5, 10, 15])
axc.set_yticks([-0.5, 0, 0.5, 1.0])
axc.set_yticklabels(['\u22120.5', '0.0', '0.5', '1.0'])
axc.tick_params(labelsize=15, length=3.5, width=1.0, pad=2.5)
tpx(1444, 487, 'Pseudotime', fontsize=19)
tpx(1231, 213, 'EMT', fontsize=18, rotation=90)
tpx(1608, 102, 'Identity', fontsize=17, ha='left')
LEG_Y = [142, 171, 200, 230, 259, 289]
axl = fig.add_axes([0, 0, 1, 1], facecolor='none')
axl.set_xlim(0, W)
axl.set_ylim(H, 0)
axl.axis('off')
for key, yy in zip(['C0', 'C1', 'C2', 'C3', 'C4', 'C5'], LEG_Y):
    axl.scatter([1621], [yy], s=62, color=COL[key], alpha=0.72, lw=0)
    tpx(1649, yy, key, fontsize=14.5, ha='left')

# ---------- panel d: chord diagram on a unit ellipse
RED, PURPLE, BROWN, PINK = '#e41a1c', '#984ea3', '#a65628', '#fb9a99'
TAN, LPINK, LPURPLE = '#c59a7c', '#fdbcc4', '#bd96cf'
# colour, start angle, end angle, inner radius, outer radius
RING_ARCS = [(RED, 88, 175.3, 0.955, 1.0), (RED, 87, 5, 0.955, 1.0), (BROWN, 189.5, 350.5, 0.955, 1.0), (RED, 190, 350, 0.885, 0.926),
             (PINK, 184.6, 189, 0.955, 1.0), (RED, 185, 189, 0.885, 0.926), (PURPLE, -0.4, -1.2, 0.955, 1.0), (PURPLE, -2.1, -3.2, 0.955, 1.0),
             (RED, -5, -6.1, 0.885, 0.926), (RED, -8, -9, 0.885, 0.926)]
CHORD_LEFT = [(0.03, 0.908), (-0.606, 0.697), (-0.884, 0.115)]
CHORD_RIGHT = [(0.889, 0.106), (0.649, 0.659), (0.071, 0.881)]
LENS_L = [(-0.884, 0.115), (-0.557, 0.061), (-0.434, 0.0), (-0.529, -0.083), (-0.843, -0.151)]
LENS_R = [(0.876, -0.155), (0.535, -0.083), (0.431, 0.0), (0.535, 0.052), (0.889, 0.106)]
CHORD_ARC = (191, 349, 0.858)
SLIT = [(0.012, 0.62), (0.03, 0.62), (0.033, -0.73), (0.029, -0.73)]
TOP_PINK = [(0.045, 0.92), (0.065, 0.915), (0.03, 0.6), (0.024, 0.6)]
TOP_PURPLE = [(0.026, 0.92), (0.04, 0.91), (0.022, 0.6), (0.016, 0.6)]
# each band: outer curve and inner curve, both as (start, control, end)
PINK_BANDS = [(((-0.93, 0.09), (-0.6, 0.065), (-0.434, 0.0)), ((-0.884, 0.115), (-0.557, 0.061), (-0.434, 0.0))),
              (((-0.855, -0.06), (-0.56, -0.005), (-0.434, 0.0)), ((-0.855, -0.15), (-0.55, -0.075), (-0.434, 0.0)))]
PURPLE_BANDS = [(((0.431, 0.0), (0.56, 0.06), (0.92, 0.105)), ((0.431, 0.0), (0.56, 0.035), (0.93, 0.085))),
                (((0.431, 0.0), (0.56, -0.035), (0.86, -0.06)), ((0.431, 0.0), (0.56, -0.06), (0.86, -0.09))),
                (((0.431, -0.005), (0.56, -0.065), (0.875, -0.105)), ((0.431, -0.005), (0.56, -0.075), (0.875, -0.115))),
                (((0.431, -0.01), (0.56, -0.085), (0.875, -0.13)), ((0.431, -0.01), (0.56, -0.095), (0.875, -0.14)))]
THIN_PINK = ((0.02, 0.64), (-0.065, 0.17), (-0.434, 0.0))
THIN_DARK = ((0.044, 0.58), (0.125, 0.22), (0.431, 0.0))

axd = axpx(943, 550, 1350, 973.5)
axd.set_xlim(-1, 1)
axd.set_ylim(-1, 1)
axd.axis('off')


def ring(col, a0, a1, r0, r1, z=3):
    th = np.radians(np.linspace(a0, a1, 150))
    xy = np.concatenate([np.c_[r1 * np.cos(th), r1 * np.sin(th)], np.c_[r0 * np.cos(th[::-1]), r0 * np.sin(th[::-1])]])
    axd.add_patch(Polygon(xy, closed=True, fc=col, ec='none', clip_on=False, zorder=z))


def quad_pts(p0, p1, p2):
    t = np.linspace(0, 1, 40)[:, None]
    return (1 - t) ** 2 * np.array(p0) + 2 * t * (1 - t) * np.array(p1) + t ** 2 * np.array(p2)


for arc in RING_ARCS:
    ring(*arc)
tha = np.radians(np.linspace(CHORD_ARC[0], CHORD_ARC[1], 200))
body = [np.array(CHORD_LEFT), quad_pts(*LENS_L[:3]), quad_pts(*LENS_L[2:]),
        np.c_[CHORD_ARC[2] * np.cos(tha), CHORD_ARC[2] * np.sin(tha)], quad_pts(*LENS_R[:3]), quad_pts(*LENS_R[2:]), np.array(CHORD_RIGHT)]
axd.add_patch(Polygon(np.concatenate(body), closed=True, fc=TAN, ec='none', zorder=1))
axd.add_patch(Polygon(SLIT, closed=True, fc='white', ec='none', zorder=2))
axd.add_patch(Polygon(TOP_PINK, closed=True, fc=LPINK, ec='none', zorder=2))
axd.add_patch(Polygon(TOP_PURPLE, closed=True, fc=LPURPLE, ec='none', zorder=2))
for bands, cc in ((PINK_BANDS, LPINK), (PURPLE_BANDS, LPURPLE)):
    for c_out, c_in in bands:
        axd.add_patch(Polygon(np.concatenate([quad_pts(*c_out), quad_pts(*c_in)[::-1]]), closed=True, fc=cc, ec='none', zorder=2))
axd.add_patch(PathPatch(Path(THIN_PINK, [Path.MOVETO, Path.CURVE3, Path.CURVE3]), fc='none', ec='#f3a9a0', lw=1.7, zorder=2))
axd.add_patch(PathPatch(Path(THIN_DARK, [Path.MOVETO, Path.CURVE3, Path.CURVE3]), fc='none', ec='#8c6656', lw=0.6, zorder=2))

tpx(975, 565, 'Cd47', fontsize=19, rotation=-52)
tpx(1316, 575, 'Cd36', fontsize=19, rotation=52)
tpx(1396, 766, 'Thbs1', fontsize=19, rotation=-7)
tpx(891, 800, 'Thbs1', fontsize=19, rotation=7)
tpx(1154, 1030, 'Thbs1', fontsize=19, rotation=90)
tpx(873, 949, 'NS_56d', fontsize=20, ha='left')
tpx(873, 989, 'SiO\u2082_56d', fontsize=20, ha='left')

LEG_NAMES = ['Epithelial_C0', 'Epithelial_C3', 'Neutrophiles', 'Neurocytes']
LEG_COLS = [RED, PURPLE, BROWN, PINK]
LEG_TOP = [874, 911.5, 949, 986.5]
for nm, cc, tp in zip(LEG_NAMES, LEG_COLS, LEG_TOP):
    axl.add_patch(Rectangle((1389, tp), 32, 36, fc=cc, ec='none'))
    tpx(1430, tp + 18, nm, fontsize=21.5, ha='left')

# panel letters
for ch, xx, yy in [('a', 46, 37), ('b', 820, 36), ('c', 1237, 38), ('d', 826, 530)]:
    tpx(xx, yy, ch, fontsize=35, va='baseline')

fig.savefig('out.png', dpi=100)
